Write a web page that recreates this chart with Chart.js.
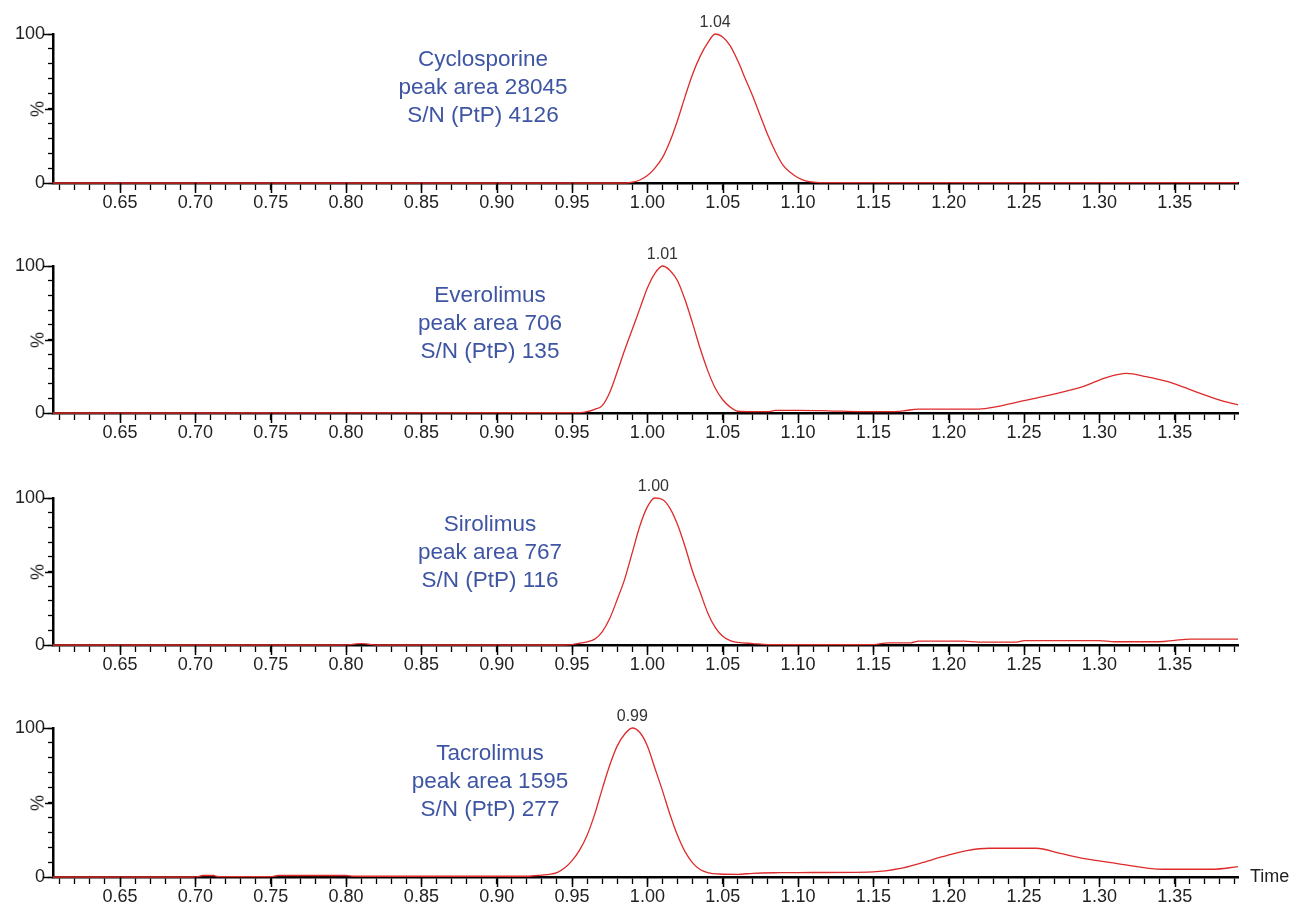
<!DOCTYPE html>
<html>
<head>
<meta charset="utf-8">
<script src="https://cdn.jsdelivr.net/npm/chart.js@4.4.1/dist/chart.umd.min.js"></script>
<style>
  html, body { margin: 0; padding: 0; background: #ffffff; }
  #wrap { position: relative; width: 1294px; height: 907px; overflow: hidden; font-family: "Liberation Sans", Arial, sans-serif; }
  .panel { position: absolute; left: 0; width: 1294px; }
  .panel canvas { display: block; }
  .ann { position: absolute; width: 300px; text-align: center; color: #3e55a3; font-size: 22.5px; line-height: 28px; white-space: nowrap; }
  .peak { position: absolute; color: #333333; font-size: 16px; transform: translate(-50%, -50%); white-space: nowrap; }
  .pct { position: absolute; color: #222222; font-size: 18px; transform: translate(-50%, -50%) rotate(-90deg); }
  .time { position: absolute; color: #222222; font-size: 18px; }
</style>
</head>
<body>
<div id="wrap"></div>
<script>
// ---------- data ----------
const xTickLabels = ['0.65','0.70','0.75','0.80','0.85','0.90','0.95','1.00','1.05','1.10','1.15','1.20','1.25','1.30','1.35'];
const yTickLabels = ['0','100'];

const names = ['Cyclosporine', 'Everolimus', 'Sirolimus', 'Tacrolimus'];
const peakAreas = [28045, 706, 767, 1595];
const snPtP = [4126, 135, 116, 277];
const peakTimes = [1.045, 1.010, 1.004, 0.990];
const peakLabels = ['1.04', '1.01', '1.00', '0.99'];

const cycT = [0.605, 0.985, 0.990, 0.995, 1.000, 1.005, 1.010, 1.015, 1.020, 1.025, 1.030, 1.035, 1.040, 1.045, 1.050, 1.055, 1.060, 1.065, 1.070, 1.075, 1.080, 1.085, 1.090, 1.095, 1.100, 1.105, 1.110, 1.120, 1.392];
const cycV = [0, 0, 0.5, 2, 5, 10, 17, 28, 42, 58, 73, 85, 94, 100, 98, 92, 82, 70, 58, 45, 32, 21, 12, 7, 3.5, 1.5, 0.6, 0.2, 0.2];

const evT = [0.605, 0.955, 0.960, 0.965, 0.970, 0.975, 0.980, 0.985, 0.990, 0.995, 1.000, 1.005, 1.010, 1.015, 1.020, 1.025, 1.030, 1.035, 1.040, 1.045, 1.050, 1.055, 1.060, 1.070, 1.080, 1.085, 1.100, 1.120, 1.140, 1.160, 1.170, 1.180, 1.200, 1.220, 1.232, 1.247, 1.267, 1.289, 1.305, 1.318, 1.331, 1.349, 1.362, 1.380, 1.392];
const evV = [0, 0.3, 0.9, 2.5, 5, 14, 28, 43, 57, 71, 85, 95, 100, 97, 90, 77, 61, 44, 29, 17, 9, 4, 1.2, 0.9, 0.9, 1.8, 1.8, 1.5, 1, 0.9, 1.5, 2.7, 2.7, 2.7, 4.3, 7.7, 12.2, 17.9, 24.3, 27, 24.7, 20.2, 15.2, 8.8, 5.6];

const sirT = [0.605, 0.800, 0.805, 0.810, 0.815, 0.820, 0.945, 0.950, 0.955, 0.960, 0.965, 0.970, 0.975, 0.980, 0.985, 0.990, 0.995, 1.000, 1.005, 1.010, 1.015, 1.020, 1.025, 1.030, 1.035, 1.040, 1.045, 1.050, 1.055, 1.060, 1.070, 1.080, 1.150, 1.160, 1.175, 1.180, 1.210, 1.220, 1.245, 1.250, 1.300, 1.310, 1.340, 1.350, 1.360, 1.392];
const sirV = [0, 0, 0.5, 1.0, 0.5, 0, 0, 0.3, 1.2, 2.2, 4, 9, 18, 31, 45, 63, 81, 94, 100, 99, 93, 82, 67, 50, 36, 22, 12, 6, 3, 1.8, 1, 0.3, 0.3, 1.5, 1.5, 2.6, 2.6, 2.0, 2.0, 3.0, 3.0, 2.2, 2.2, 3.2, 4, 4];

const tacT = [0.605, 0.700, 0.705, 0.712, 0.715, 0.750, 0.755, 0.800, 0.805, 0.900, 0.920, 0.930, 0.935, 0.940, 0.945, 0.950, 0.955, 0.960, 0.965, 0.970, 0.975, 0.980, 0.985, 0.990, 0.995, 1.000, 1.005, 1.010, 1.015, 1.020, 1.025, 1.030, 1.035, 1.040, 1.048, 1.060, 1.070, 1.088, 1.100, 1.150, 1.168, 1.181, 1.196, 1.212, 1.227, 1.258, 1.274, 1.289, 1.311, 1.342, 1.375, 1.392];
const tacV = [0, 0, 1, 1, 0.3, 0.3, 1, 1, 0.5, 0.5, 0.5, 1.3, 1.8, 3, 6, 11, 18, 28, 42, 59, 75, 88, 96, 100, 97, 88, 73, 58, 42, 28, 17, 9.5, 5, 3, 2, 1.8, 2.5, 2.9, 3, 3.5, 5.8, 9.2, 13.6, 17.7, 19.3, 19.3, 15.9, 12.5, 9.2, 5.2, 5.2, 6.9];

const seriesT = [cycT, evT, sirT, tacT];
const seriesV = [cycV, evV, sirV, tacV];

// ---------- layout ----------
const X_MIN = 0.6055, X_MAX = 1.392;
const panels = [
  { top: 0,   h: 232, plotTop: 34, plotH: 149, annTop: 45,  annX: 483 },
  { top: 232, h: 232, plotTop: 34, plotH: 147, annTop: 281, annX: 490 },
  { top: 464, h: 232, plotTop: 34, plotH: 147, annTop: 510, annX: 490 },
  { top: 694, h: 213, plotTop: 34, plotH: 149, annTop: 739, annX: 490 }
];
const LEFT_W = 53, RIGHT_PAD = 56;
const RED = '#dd2b2b';
const FONT = '"Liberation Sans", Arial, sans-serif';

const minorTickValues = [];
for (let i = 61; i <= 139; i++) minorTickValues.push(i / 100);
const isMajorX = v => xTickLabels.includes(v.toFixed(2));

const wrap = document.getElementById('wrap');

const tickPlugin = {
  id: 'majorTicks',
  afterDraw(chart) {
    const { ctx, scales: { x, y } } = chart;
    ctx.save();
    ctx.strokeStyle = '#000';
    ctx.lineWidth = 1.5;
    x.ticks.forEach(t => {
      if (isMajorX(t.value)) {
        const px = Math.round(x.getPixelForValue(t.value)) + 0.5;
        ctx.beginPath(); ctx.moveTo(px, x.top); ctx.lineTo(px, x.top + 10); ctx.stroke();
      }
    });
    [0, 50, 100].forEach(v => {
      const py = Math.round(y.getPixelForValue(v)) + 0.5;
      const len = v === 50 ? 8 : 10;
      ctx.beginPath(); ctx.moveTo(y.right, py); ctx.lineTo(y.right - len, py); ctx.stroke();
    });
    ctx.restore();
  }
};

panels.forEach((p, i) => {
  const div = document.createElement('div');
  div.className = 'panel';
  div.style.top = p.top + 'px';
  div.style.height = p.h + 'px';
  const canvas = document.createElement('canvas');
  canvas.width = 1294; canvas.height = p.h;
  canvas.style.width = '1294px'; canvas.style.height = p.h + 'px';
  div.appendChild(canvas);
  wrap.appendChild(div);

  const data = seriesT[i].map((t, k) => ({ x: t, y: seriesV[i][k] }));
  const xAxisH = p.h - p.plotTop - p.plotH;

  const overlayPlugin = {
    id: 'overlay' + i,
    afterRender(chart) {
      if (chart.$overlayDone) return;
      chart.$overlayDone = true;
      const x = chart.scales.x, y = chart.scales.y;
      const pk = document.createElement('div');
      pk.className = 'peak';
      pk.textContent = peakLabels[i];
      pk.style.left = x.getPixelForValue(peakTimes[i]) + 'px';
      pk.style.top = (p.top + y.getPixelForValue(100) - 12) + 'px';
      wrap.appendChild(pk);
      const pc = document.createElement('div');
      pc.className = 'pct';
      pc.textContent = '%';
      pc.style.left = '38px';
      pc.style.top = (p.top + y.getPixelForValue(50)) + 'px';
      wrap.appendChild(pc);
      if (i === panels.length - 1) {
        const tm = document.createElement('div');
        tm.className = 'time';
        tm.textContent = 'Time';
        tm.style.left = '1250px';
        tm.style.top = (p.top + y.getPixelForValue(0) - 11) + 'px';
        wrap.appendChild(tm);
      }
    }
  };

  new Chart(canvas, {
    type: 'line',
    data: {
      datasets: [{
        data: data,
        borderColor: RED,
        borderWidth: 1.3,
        pointRadius: 0,
        fill: false,
        cubicInterpolationMode: 'monotone',
        clip: false
      }]
    },
    options: {
      responsive: false,
      animation: false,
      devicePixelRatio: 1,
      events: [],
      layout: { padding: { top: p.plotTop, right: RIGHT_PAD, left: 0, bottom: 0 } },
      plugins: { legend: { display: false }, tooltip: { enabled: false } },
      scales: {
        x: {
          type: 'linear',
          min: X_MIN, max: X_MAX,
          afterBuildTicks(axis) { axis.ticks = minorTickValues.map(v => ({ value: v })); },
          afterFit(axis) { axis.height = xAxisH; },
          border: { display: true, color: '#000', width: 2.5 },
          grid: { display: true, drawOnChartArea: false, drawTicks: true, tickLength: 7, tickColor: '#000', tickWidth: 1.3 },
          ticks: {
            autoSkip: false, maxRotation: 0, minRotation: 0, padding: 2,
            color: '#222', font: { family: FONT, size: 18 },
            callback(v) { const s = Number(v).toFixed(2); return xTickLabels.includes(s) ? s : ''; }
          }
        },
        y: {
          type: 'linear',
          min: 0, max: 100,
          afterFit(axis) { axis.width = LEFT_W; },
          border: { display: true, color: '#000', width: 2.5 },
          grid: { display: true, drawOnChartArea: false, drawTicks: true, tickLength: 5, tickColor: '#000', tickWidth: 1.3 },
          ticks: {
            stepSize: 10, padding: 3, autoSkip: false,
            color: '#222', font: { family: FONT, size: 18 },
            callback(v) { const s = String(v); return yTickLabels.includes(s) ? s : ''; }
          }
        }
      }
    },
    plugins: [tickPlugin, overlayPlugin]
  });

  const ann = document.createElement('div');
  ann.className = 'ann';
  ann.style.left = (p.annX - 150) + 'px';
  ann.style.top = p.annTop + 'px';
  ann.innerHTML = names[i] + '<br>peak area ' + peakAreas[i] + '<br>S/N (PtP) ' + snPtP[i];
  wrap.appendChild(ann);
});
</script>
</body>
</html>
